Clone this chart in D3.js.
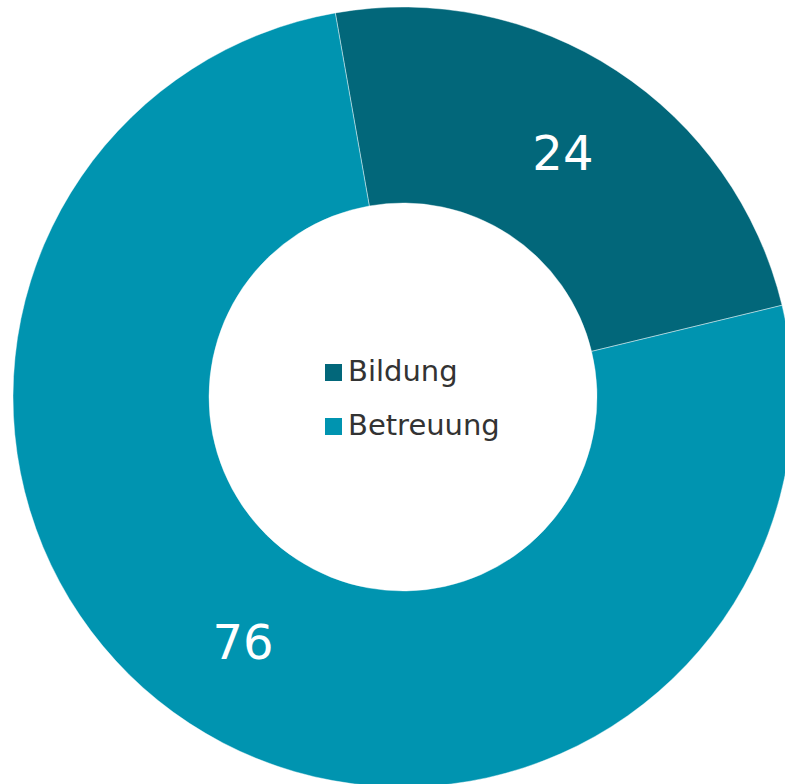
<!DOCTYPE html>
<html><head><meta charset="utf-8">
<script src="https://cdn.jsdelivr.net/npm/d3@7"></script>
<style>html,body{margin:0;padding:0;background:#fff;}svg{display:block;}</style>
</head><body>
<svg id="chart" width="785" height="784"></svg>
<script>
const categories = ["Bildung", "Betreuung"];
const values = [24, 76];
const colors = ["#02677a", "#0094b0"];

const svg = d3.select("#chart");
const cx = 403, cy = 397, R = 390, r = 194;
const g = svg.append("g").attr("transform", `translate(${cx},${cy})`);

const startA = -10 * Math.PI / 180;
const pie = d3.pie().sort(null).value(d => d.v)
  .startAngle(startA).endAngle(startA + 2 * Math.PI);
const data = categories.map((c, i) => ({c, v: values[i], col: colors[i]}));
const arcs = pie(data);
const arc = d3.arc().innerRadius(r).outerRadius(R);
const labelArc = d3.arc().innerRadius((r + R) / 2).outerRadius((r + R) / 2);

g.selectAll("path.slice").data(arcs).enter().append("path")
  .attr("class", "slice")
  .attr("d", arc)
  .attr("fill", d => d.data.col)
  .attr("stroke", "#ffffff").attr("stroke-width", 0.6).attr("stroke-opacity", 0.7);

g.selectAll("text.val").data(arcs).enter().append("text")
  .attr("class", "val")
  .attr("transform", d => `translate(${labelArc.centroid(d)})`)
  .attr("text-anchor", "middle")
  .attr("dy", "0.36em")
  .attr("font-family", "DejaVu Sans, Verdana, sans-serif")
  .attr("font-size", 48)
  .attr("fill", "#ffffff")
  .text(d => d.data.v);

const legend = svg.append("g").attr("transform", "translate(325,0)");
const rows = legend.selectAll("g").data(data).enter().append("g")
  .attr("transform", (d, i) => `translate(0,${381 + i * 54})`);
rows.append("rect").attr("x", 0).attr("y", -17).attr("width", 17).attr("height", 17)
  .attr("fill", d => d.col);
rows.append("text").attr("x", 23).attr("y", 0)
  .attr("font-family", "DejaVu Sans, Verdana, sans-serif")
  .attr("font-size", 29).attr("fill", "#333333")
  .text(d => d.c);
</script>
</body></html>
